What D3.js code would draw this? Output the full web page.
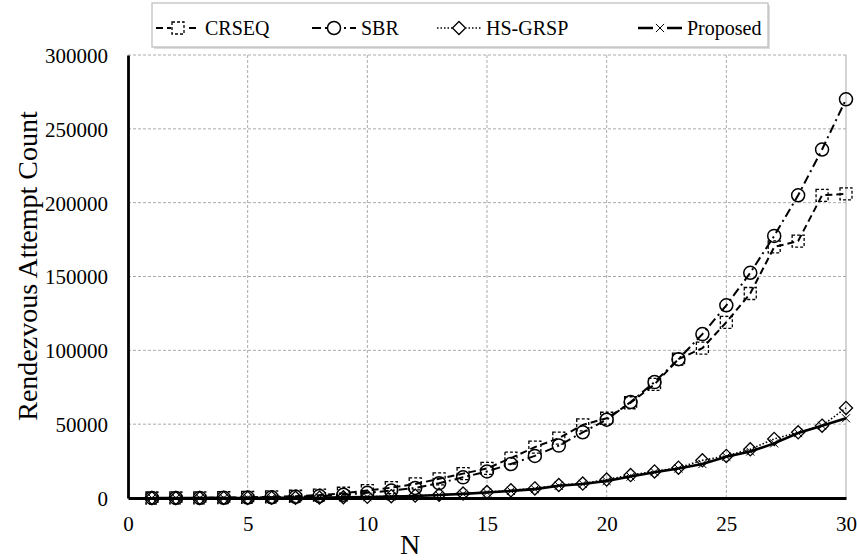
<!DOCTYPE html>
<head>
<meta charset="utf-8">
<script src="https://d3js.org/d3.v7.min.js"></script>
<style>
  body { margin: 0; background: #fff; }
  text { font-family: "Liberation Serif", "Times New Roman", serif; fill: #000; }
</style>
</head>
<body>
<svg width="857" height="560"></svg>
<script>

// values
let nValues = d3.range(1, 31);
let crseq = [10, 40, 100, 250, 450, 800, 1200, 2000, 3200, 5000, 7000, 9500, 13000, 16500, 20000,
             27000, 34500, 40500, 49500, 54000, 64500, 77000, 94000, 101500, 119000, 138500, 170000, 174000, 205000, 206000];
let sbr = [5, 20, 60, 150, 300, 500, 800, 1300, 2200, 3500, 5000, 6800, 10000, 14000, 18000,
           23000, 28500, 35500, 44500, 53000, 65000, 78500, 94000, 111000, 130500, 152500, 177500, 205000, 236000, 270000];
let hsgrsp = [0, 0, 10, 20, 40, 80, 150, 250, 500, 800, 1200, 1600, 2200, 3000, 4000,
              5200, 6500, 8800, 9800, 12500, 15500, 18000, 20500, 25500, 28500, 33000, 40000, 44500, 49000, 61000];
let proposed = [0, 0, 10, 20, 40, 70, 130, 220, 400, 700, 1000, 1400, 2000, 2800, 3700,
                4800, 6000, 8300, 9500, 11500, 14500, 17500, 20000, 23000, 28000, 31500, 37000, 44000, 49000, 54000];
let seriesNames = ["CRSEQ", "SBR", "HS-GRSP", "Proposed"];
let xTicks = [0, 5, 10, 15, 20, 25, 30];
let yTicks = [0, 50000, 100000, 150000, 200000, 250000, 300000];

let svg = d3.select("svg");
let width = +svg.attr("width"),
    height = +svg.attr("height");
let margin = {top: 55, right: 11, bottom: 62, left: 128};

let x = d3.scaleLinear().domain([0, 30]).range([margin.left, width - margin.right]);
let y = d3.scaleLinear().domain([0, 300000]).range([height - margin.bottom, margin.top]);

// grid
svg.append("g")
  .selectAll("line")
  .data(yTicks.slice(1))
  .enter().append("line")
    .attr("x1", x(0)).attr("x2", x(30))
    .attr("y1", y).attr("y2", y)
    .attr("stroke", "#aaa").attr("stroke-dasharray", "3,2");

svg.append("g")
  .selectAll("line")
  .data(xTicks.slice(1))
  .enter().append("line")
    .attr("x1", x).attr("x2", x)
    .attr("y1", y(0)).attr("y2", y(300000))
    .attr("stroke", "#aaa").attr("stroke-dasharray", d => d == 30 ? null : "3,2");

// axes
let yAxis = svg.append("g")
    .attr("transform", "translate(" + x(0) + ",0)")
    .call(d3.axisLeft(y).tickValues(yTicks).tickSize(0).tickPadding(20).tickFormat(d3.format("d")));
let xAxis = svg.append("g")
    .attr("transform", "translate(0," + y(0) + ")")
    .call(d3.axisBottom(x).tickValues(xTicks).tickSize(0).tickPadding(33));

[xAxis, yAxis].forEach(function(a) {
  a.select(".domain").attr("stroke", "#000").attr("stroke-width", 2.8);
  a.selectAll("text").attr("font-size", 21).attr("font-family", "Liberation Serif");
});
xAxis.selectAll("text").attr("dy", "0");
yAxis.selectAll("text").attr("dy", "0.35em");

svg.append("text")
    .attr("x", 410).attr("y", 554)
    .attr("text-anchor", "middle")
    .attr("font-size", 28)
    .text("N");

svg.append("text")
    .attr("transform", "translate(27," + 266 + ")rotate(-90)")
    .attr("text-anchor", "middle")
    .attr("dy", "0.35em")
    .attr("font-size", 28)
    .text("Rendezvous Attempt Count");

// series
let styles = {
  "CRSEQ":    {data: crseq,    dash: "7,4",     width: 2,   marker: "square"},
  "SBR":      {data: sbr,      dash: "9,4,2,4", width: 2,   marker: "circle"},
  "HS-GRSP":  {data: hsgrsp,   dash: "1.5,2",   width: 1.6, marker: "diamond"},
  "Proposed": {data: proposed, dash: null,      width: 2.6, marker: "cross"}
};

function drawMarker(g, kind, cx, cy) {
  if (kind == "square") {
    g.append("rect").attr("x", cx - 6).attr("y", cy - 6).attr("width", 12).attr("height", 12)
      .attr("fill", "none").attr("stroke", "#000").attr("stroke-width", 1.3).attr("stroke-dasharray", "3,2");
  } else if (kind == "circle") {
    g.append("circle").attr("cx", cx).attr("cy", cy).attr("r", 6.5)
      .attr("fill", "none").attr("stroke", "#000").attr("stroke-width", 1.5);
  } else if (kind == "diamond") {
    g.append("path").attr("d", d3.symbol(d3.symbolDiamond2, 110)())
      .attr("transform", "translate(" + cx + "," + cy + ")")
      .attr("fill", "none").attr("stroke", "#000").attr("stroke-width", 1.3);
  } else {
    g.append("path").attr("d", d3.symbol(d3.symbolX, 45)())
      .attr("transform", "translate(" + cx + "," + cy + ")")
      .attr("fill", "none").attr("stroke", "#000").attr("stroke-width", 1);
  }
}

let line = d3.line().x((d, i) => x(nValues[i])).y(d => y(d));

seriesNames.forEach(function(name) {
  let s = styles[name];
  let g = svg.append("g");
  g.append("path")
    .attr("d", line(s.data))
    .attr("fill", "none")
    .attr("stroke", "#000")
    .attr("stroke-width", s.width)
    .attr("stroke-dasharray", s.dash);
  s.data.forEach(function(v, i) { drawMarker(g, s.marker, x(nValues[i]), y(v)); });
});

// legend
let legend = svg.append("g");
legend.append("rect")
    .attr("x", 154).attr("y", 5).attr("width", 616).attr("height", 44)
    .attr("fill", "#ddd");
legend.append("rect")
    .attr("x", 152).attr("y", 3).attr("width", 616).attr("height", 44)
    .attr("fill", "#fff").attr("stroke", "#bbb").attr("stroke-width", 1.2);

let legendX = [156, 312, 437, 638];
seriesNames.forEach(function(name, i) {
  let s = styles[name];
  let g = legend.append("g").attr("transform", "translate(" + legendX[i] + ",28)");
  g.append("line").attr("x1", 0).attr("x2", 44)
    .attr("stroke", "#000").attr("stroke-width", s.width).attr("stroke-dasharray", s.dash);
  g.append("rect").attr("x", 15).attr("y", -7).attr("width", 14).attr("height", 14).attr("fill", "#fff");
  drawMarker(g, s.marker, 22, 0);
  g.append("text").attr("x", 49).attr("dy", "0.35em").attr("font-size", 20).text(name);
});

</script>
</body>
